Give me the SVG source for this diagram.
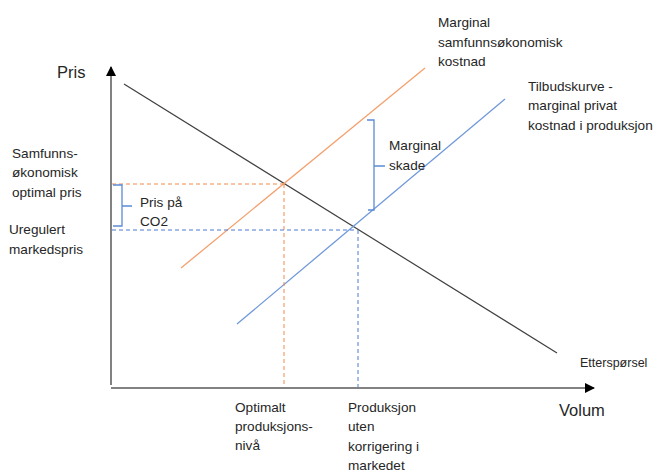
<svg xmlns="http://www.w3.org/2000/svg" width="657" height="474" viewBox="0 0 657 474">
  <style>
    .lbl { font-family: "Liberation Sans", Arial, sans-serif; font-size: 13.6px; fill: #262626; }
    .axl { font-family: "Liberation Sans", Arial, sans-serif; font-size: 16.5px; fill: #262626; }
    .axis { stroke: #595959; stroke-width: 1.5; fill: none; }
    .demand { stroke: #404040; stroke-width: 1.2; fill: none; }
    .msc { stroke: #F4A06E; stroke-width: 1.3; fill: none; }
    .mpc { stroke: #7099DA; stroke-width: 1.3; fill: none; }
    .dash-o { stroke: #F08A4B; stroke-width: 1; stroke-dasharray: 4 3; fill: none; }
    .dash-b { stroke: #4A7BD0; stroke-width: 1; stroke-dasharray: 4 3; fill: none; }
    .brace { stroke: #5B8BD6; stroke-width: 1.3; fill: none; }
  </style>
  <defs>
    <marker id="arrow" viewBox="0 0 10 10" refX="9" refY="5" markerWidth="10" markerHeight="10" markerUnits="userSpaceOnUse" orient="auto">
      <path d="M0,0 L10,5 L0,10 z" fill="#000"/>
    </marker>
  </defs>
  <rect width="657" height="474" fill="#fff"/>

  <g id="connectors">
    <!-- axes -->
    <line class="axis" x1="111" y1="385" x2="111" y2="67" marker-end="url(#arrow)"/>
    <line class="axis" x1="111" y1="388" x2="594" y2="388" marker-end="url(#arrow)"/>
    <!-- curves -->
    <line class="demand" x1="124" y1="84" x2="557" y2="353"/>
    <line class="msc" x1="181" y1="268" x2="425" y2="68"/>
    <line class="mpc" x1="237" y1="324" x2="505" y2="99"/>
    <!-- guide lines -->
    <line class="dash-o" x1="112" y1="184" x2="284" y2="184"/>
    <line class="dash-o" x1="284" y1="184" x2="284" y2="387"/>
    <line class="dash-b" x1="112" y1="230" x2="357" y2="230"/>
    <line class="dash-b" x1="358" y1="230" x2="358" y2="387"/>
    <!-- braces -->
    <path class="brace" d="M113,185 H122 V226 H113 M122,206 H132"/>
    <path class="brace" d="M367,120 H374 V210 H368 M374,166 H385"/>
  </g>

  <g id="axis-labels">
    <text class="axl" x="57" y="78">Pris</text>
    <text class="axl" x="559" y="416">Volum</text>
  </g>
  <g id="price-optimal">
    <text class="lbl" x="12" y="158">Samfunns-</text>
    <text class="lbl" x="12" y="177">økonomisk</text>
    <text class="lbl" x="12" y="197">optimal pris</text>
  </g>
  <g id="price-market">
    <text class="lbl" x="9" y="234">Uregulert</text>
    <text class="lbl" x="9" y="254">markedspris</text>
  </g>
  <g id="co2-price">
    <text class="lbl" x="140" y="207">Pris på</text>
    <text class="lbl" x="140" y="226">CO2</text>
  </g>
  <g id="marginal-damage">
    <text class="lbl" x="389" y="150">Marginal</text>
    <text class="lbl" x="389" y="170">skade</text>
  </g>
  <g id="msc-label">
    <text class="lbl" x="438" y="27">Marginal</text>
    <text class="lbl" x="438" y="47">samfunnsøkonomisk</text>
    <text class="lbl" x="438" y="66">kostnad</text>
  </g>
  <g id="supply-label">
    <text class="lbl" x="528" y="91">Tilbudskurve -</text>
    <text class="lbl" x="528" y="110">marginal privat</text>
    <text class="lbl" x="528" y="130">kostnad i produksjon</text>
  </g>
  <g id="demand-label">
    <text class="lbl" x="580" y="367" style="font-size:12.5px">Etterspørsel</text>
  </g>
  <g id="q-optimal">
    <text class="lbl" x="235" y="412">Optimalt</text>
    <text class="lbl" x="235" y="431">produksjons-</text>
    <text class="lbl" x="235" y="450">nivå</text>
  </g>
  <g id="q-market">
    <text class="lbl" x="348" y="412">Produksjon</text>
    <text class="lbl" x="348" y="431">uten</text>
    <text class="lbl" x="348" y="451">korrigering i</text>
    <text class="lbl" x="348" y="470">markedet</text>
  </g>
</svg>
